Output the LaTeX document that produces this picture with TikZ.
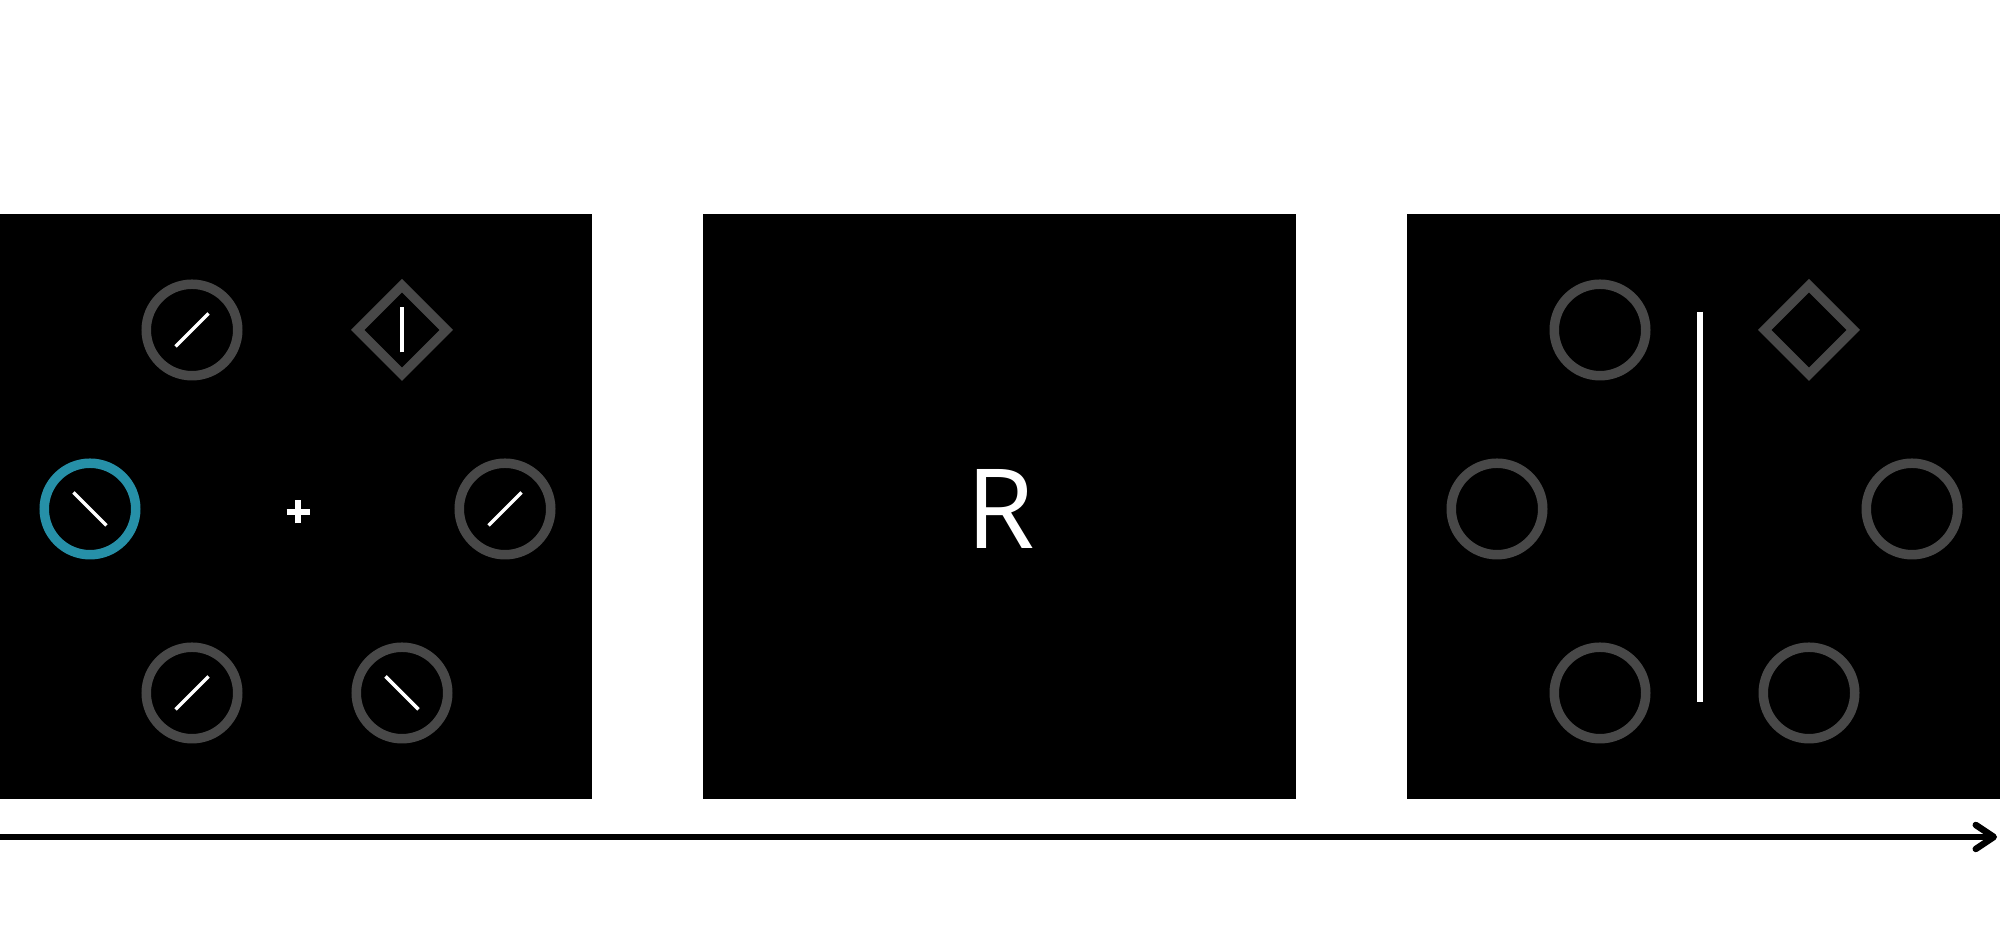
\documentclass[tikz,border=0pt]{standalone}
\usepackage{fontspec}
\usepackage{tikz}
\usetikzlibrary{shapes.geometric, positioning, arrows.meta}
\newfontfamily\cuefont{Open Sans}
\definecolor{ringgray}{RGB}{72,72,72}
\definecolor{cueblue}{RGB}{38,144,168}
\tikzset{
    screen/.style={fill=black, draw=none},
    ring/.style={circle, draw=ringgray, line width=0.95mm, minimum size=9.15mm, inner sep=0pt},
    cuering/.style={ring, draw=cueblue},
    rhomb/.style={diamond, draw=ringgray, line width=0.95mm, minimum width=9.25mm, minimum height=9.25mm, inner sep=0pt},
    tilt/.style={draw=white, line width=0.35mm},
    fixbar/.style={draw=white, line width=0.6mm},
    probebar/.style={draw=white, line width=0.66mm},
    timeline/.style={line width=0.65mm, -{Straight Barb[length=1.8mm, width=2.4mm, round]}}
}

\begin{document}
\begin{tikzpicture}[x=1cm, y=1cm]

    \useasboundingbox (0,0) rectangle (20,9.25);

    % --- THREE SCREENS ---
    \path[screen] (0,1.257) rectangle (5.923,7.11);
    \path[screen] (7.033,1.257) rectangle (12.96,7.11);
    \path[screen] (14.073,1.257) rectangle (20,7.11);

    % --- SCREEN 1: SEARCH DISPLAY ---
    \node[ring]    (s1tl) at (1.92,5.95) {};
    \node[rhomb]   (s1tr) at (4.02,5.95) {};
    \node[cuering] (s1ml) at (0.90,4.16) {};
    \node[ring]    (s1mr) at (5.05,4.16) {};
    \node[ring]    (s1bl) at (1.92,2.32) {};
    \node[ring]    (s1br) at (4.02,2.32) {};

    % line segments inside the items
    \draw[tilt] (s1tl.center) +(-0.165,-0.165) -- +(0.165,0.165);
    \draw[tilt] (s1tr.center) +(0,-0.225) -- +(0,0.225);
    \draw[tilt] (s1ml.center) +(-0.165,0.165) -- +(0.165,-0.165);
    \draw[tilt] (s1mr.center) +(-0.165,-0.165) -- +(0.165,0.165);
    \draw[tilt] (s1bl.center) +(-0.165,-0.165) -- +(0.165,0.165);
    \draw[tilt] (s1br.center) +(-0.165,0.165) -- +(0.165,-0.165);

    % fixation cross
    \coordinate (fix) at (2.983,4.133);
    \draw[fixbar] (fix) +(-0.117,0) -- +(0.117,0);
    \draw[fixbar] (fix) +(0,-0.117) -- +(0,0.117);

    % --- SCREEN 2: RESPONSE CUE ---
    \node[text=white, inner sep=0pt, font=\cuefont\fontsize{31.5}{36}\selectfont] (resp) at (10.01,4.16) {R};

    % --- SCREEN 3: PROBE DISPLAY ---
    \node[ring]  (s3tl) at (16.00,5.95) {};
    \node[rhomb] (s3tr) at (18.09,5.95) {};
    \node[ring]  (s3ml) at (14.97,4.16) {};
    \node[ring]  (s3mr) at (19.12,4.16) {};
    \node[ring]  (s3bl) at (16.00,2.32) {};
    \node[ring]  (s3br) at (18.09,2.32) {};

    \coordinate (probetop) at (17.00,6.133);
    \coordinate (probebot) at (17.00,2.23);
    \draw[probebar] (probetop) -- (probebot);

    % --- TIME AXIS ---
    \coordinate (tstart) at (0,0.88);
    \coordinate (tend)   at (19.97,0.88);
    \draw[timeline] (tstart) -- (tend);

\end{tikzpicture}
\end{document}
